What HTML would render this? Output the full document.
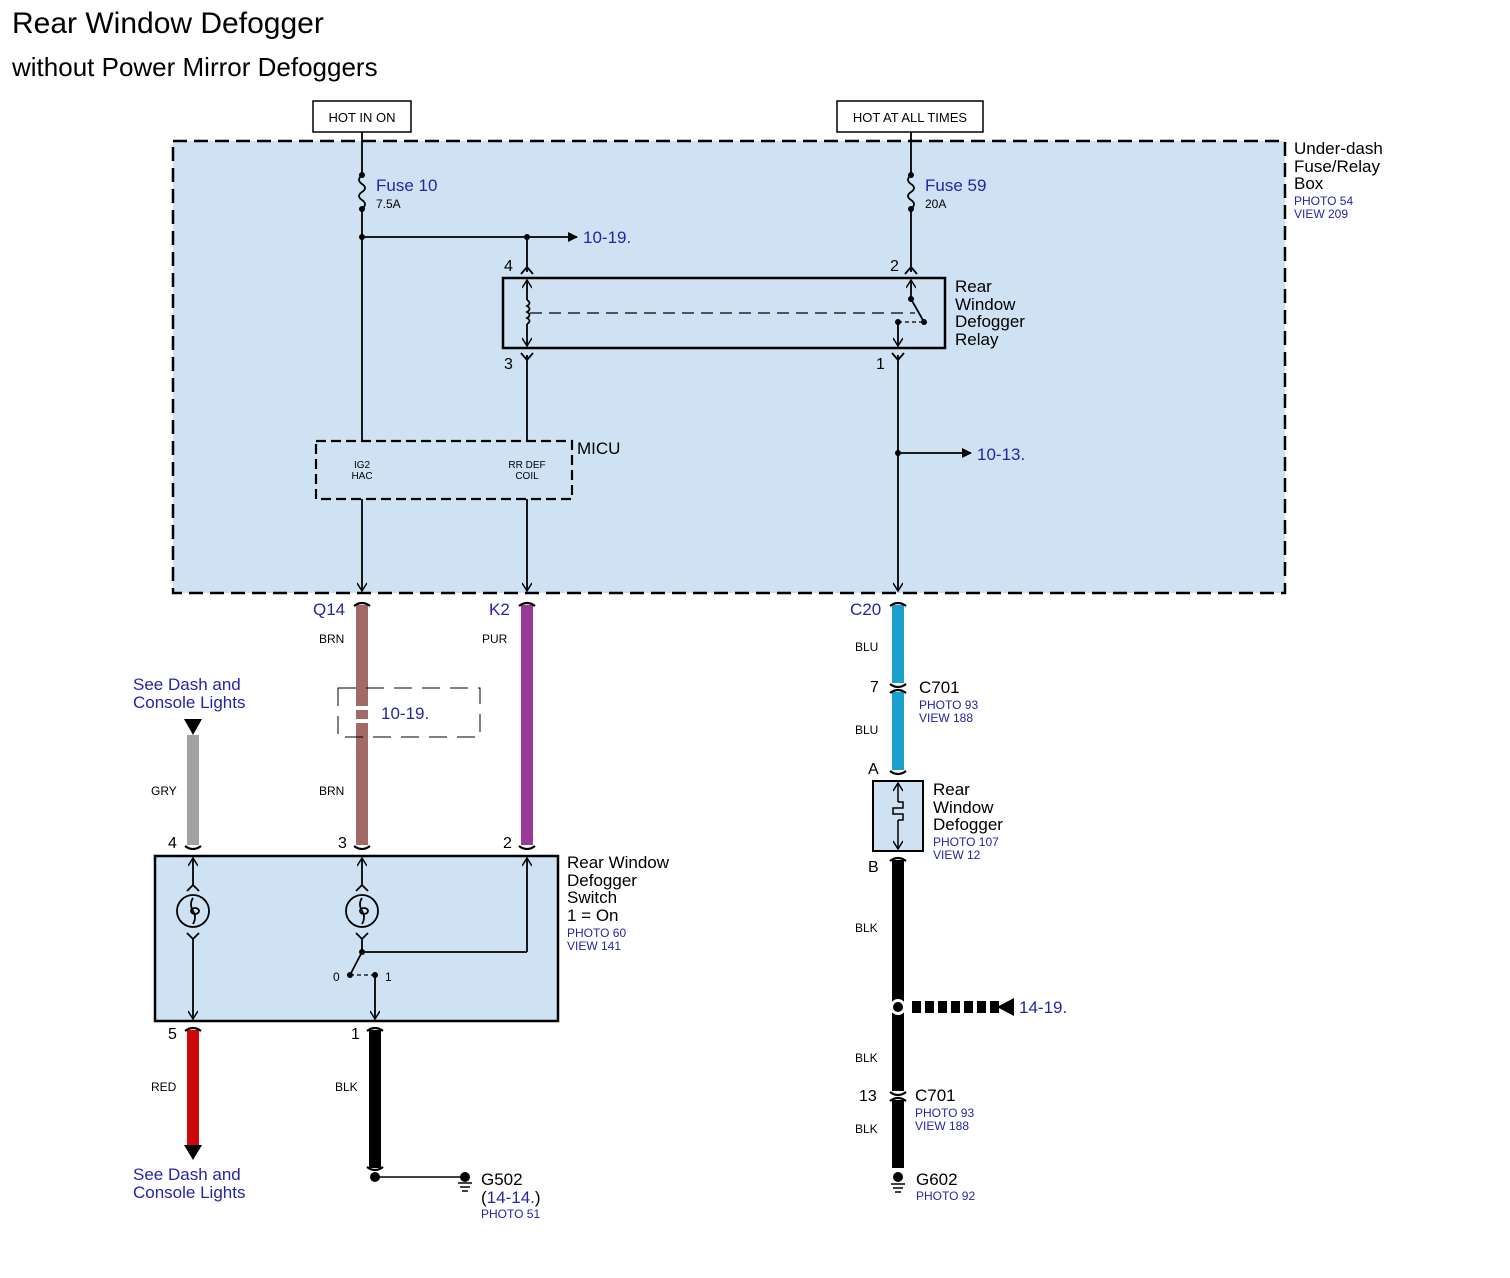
<!DOCTYPE html>
<html><head><meta charset="utf-8"><style>
html,body{margin:0;padding:0;background:#fff;}
svg{display:block;}
text{font-family:"Liberation Sans",Arial,sans-serif;}
.b{fill:#2424a8;}
.k{fill:#000;}
</style></head><body>
<svg width="1510" height="1278" viewBox="0 0 1510 1278" xmlns="http://www.w3.org/2000/svg">
<defs>
<marker id="ah" markerWidth="10" markerHeight="10" refX="9" refY="5" orient="auto" markerUnits="userSpaceOnUse"><path d="M0,0 L10,5 L0,10 z" fill="#000"/></marker>
<marker id="ch" markerWidth="12" markerHeight="10" refX="10" refY="5" orient="auto-start-reverse" markerUnits="userSpaceOnUse"><path d="M2,0 L10,5 L2,10" fill="none" stroke="#000" stroke-width="1.5"/></marker>
</defs>
<text x="12" y="33" font-size="30" class="k">Rear Window Defogger</text>
<text x="12" y="76" font-size="26" class="k">without Power Mirror Defoggers</text>

<rect x="173" y="141" width="1112" height="452" fill="#cfe2f3" stroke="#000" stroke-width="2.5" stroke-dasharray="14,7"/>
<rect x="313" y="101" width="98" height="31" fill="#fff" stroke="#000" stroke-width="1.5"/>
<text x="362" y="122" font-size="13" text-anchor="middle">HOT IN ON</text>
<rect x="837" y="101" width="146" height="31" fill="#fff" stroke="#000" stroke-width="1.5"/>
<text x="910" y="122" font-size="13" text-anchor="middle">HOT AT ALL TIMES</text>
<text x="1294" y="154" font-size="17">Under-dash</text>
<text x="1294" y="172" font-size="17">Fuse/Relay</text>
<text x="1294" y="189" font-size="17">Box</text>
<text x="1294" y="205" font-size="12" class="b">PHOTO 54</text>
<text x="1294" y="218" font-size="12" class="b">VIEW 209</text>

<g stroke="#000" stroke-width="1.8" fill="none">
<line x1="362" y1="132" x2="362" y2="175"/>
<path d="M362,175 q-6,5 0,9 q6,4 0,8 q-6,4 0,8 q6,4 0,9"/>
<line x1="362" y1="209" x2="362" y2="441"/>
<line x1="362" y1="237" x2="577" y2="237" marker-end="url(#ah)"/>
<line x1="527" y1="237" x2="527" y2="272"/>
<path d="M521,274 L527,267 L533,274"/>
<line x1="911" y1="132" x2="911" y2="175"/>
<path d="M911,175 q-6,5 0,9 q6,4 0,8 q-6,4 0,8 q6,4 0,9"/>
<line x1="911" y1="209" x2="911" y2="272"/>
<path d="M905,274 L911,267 L917,274"/>
<rect x="503" y="278" width="442" height="70" stroke-width="2.5"/>
<line x1="527" y1="280" x2="527" y2="300" marker-start="url(#ch)"/>
<path d="M527,300 q5,3 0,6 q5,3 0,6 q5,3 0,6 q5,3 0,6"/>
<line x1="527" y1="324" x2="527" y2="346" marker-end="url(#ch)"/>
<line x1="530" y1="313" x2="915" y2="313" stroke-dasharray="12,7" stroke-width="1.3"/>
<line x1="911" y1="280" x2="911" y2="299" marker-start="url(#ch)"/>
<line x1="911" y1="299" x2="924" y2="322"/>
<line x1="898" y1="322" x2="924" y2="322" stroke-dasharray="4,3" stroke-width="1.2"/>
<line x1="898" y1="322" x2="898" y2="346" marker-end="url(#ch)"/>
<path d="M521,353 L527,360 L533,353"/>
<line x1="527" y1="355" x2="527" y2="441"/>
<path d="M892,353 L898,360 L904,353"/>
<line x1="898" y1="355" x2="898" y2="591" marker-end="url(#ch)"/>
<line x1="898" y1="453" x2="971" y2="453" marker-end="url(#ah)"/>
<rect x="316" y="441" width="256" height="58" stroke-dasharray="10,5" stroke-width="2.2"/>
<line x1="362" y1="499" x2="362" y2="591" marker-end="url(#ch)"/>
<line x1="527" y1="499" x2="527" y2="591" marker-end="url(#ch)"/>
</g>
<g fill="#000">
<circle cx="362" cy="175" r="3"/><circle cx="362" cy="209" r="3"/>
<circle cx="911" cy="175" r="3"/><circle cx="911" cy="209" r="3"/>
<circle cx="362" cy="237" r="3"/><circle cx="527" cy="237" r="3"/>
<circle cx="911" cy="299" r="3"/><circle cx="924" cy="322" r="3"/><circle cx="898" cy="322" r="3"/>
<circle cx="898" cy="453" r="3"/>
</g>
<text x="376" y="191" font-size="17" class="b">Fuse 10</text>
<text x="376" y="208" font-size="12">7.5A</text>
<text x="925" y="191" font-size="17" class="b">Fuse 59</text>
<text x="925" y="208" font-size="12">20A</text>
<text x="583" y="243" font-size="17" class="b">10-19.</text>
<text x="977" y="460" font-size="17" class="b">10-13.</text>
<text x="504" y="271" font-size="16">4</text>
<text x="890" y="271" font-size="16">2</text>
<text x="504" y="369" font-size="16">3</text>
<text x="876" y="369" font-size="16">1</text>
<text x="955" y="292" font-size="17">Rear</text>
<text x="955" y="310" font-size="17">Window</text>
<text x="955" y="327" font-size="17">Defogger</text>
<text x="955" y="345" font-size="17">Relay</text>
<text x="577" y="454" font-size="17">MICU</text>
<text x="362" y="468" font-size="10" text-anchor="middle">IG2</text>
<text x="362" y="479" font-size="10" text-anchor="middle">HAC</text>
<text x="527" y="468" font-size="10" text-anchor="middle">RR DEF</text>
<text x="527" y="479" font-size="10" text-anchor="middle">COIL</text>

<rect x="356" y="605" width="12" height="240" fill="#a26a66"/>
<rect x="521" y="605" width="12" height="240" fill="#9a3a98"/>
<rect x="892" y="605" width="12" height="78" fill="#1aa0cc"/>
<rect x="892" y="692" width="12" height="78" fill="#1aa0cc"/>
<rect x="187" y="735" width="12" height="110" fill="#a2a2a2"/>
<rect x="187" y="1030" width="12" height="115" fill="#cc0a0a"/>
<rect x="369" y="1030" width="12" height="138" fill="#000"/>
<rect x="892" y="860" width="12" height="231" fill="#000"/>
<rect x="892" y="1100" width="12" height="68" fill="#000"/>
<g stroke="#000" stroke-width="2.2" fill="none">
<path d="M354,606 Q362,600 370,606"/><path d="M519,606 Q527,600 535,606"/><path d="M890,606 Q898,600 906,606"/>
<path d="M890,684 Q898,690 906,684"/><path d="M890,693 Q898,687 906,693"/>
<path d="M890,771 Q898,777 906,771"/><path d="M890,861 Q898,855 906,861"/>
<path d="M185,846 Q193,852 201,846"/><path d="M354,846 Q362,852 370,846"/><path d="M519,846 Q527,852 535,846"/>
<path d="M185,1031 Q193,1025 201,1031"/><path d="M367,1031 Q375,1025 383,1031"/>
<path d="M890,1092 Q898,1098 906,1092"/><path d="M890,1101 Q898,1095 906,1101"/>
<path d="M367,1167 Q375,1173 383,1167"/>
</g>
<text x="313" y="615" font-size="17" class="b">Q14</text>
<text x="489" y="615" font-size="17" class="b">K2</text>
<text x="850" y="615" font-size="17" class="b">C20</text>
<text x="319" y="643" font-size="12">BRN</text>
<text x="482" y="643" font-size="12">PUR</text>
<text x="319" y="795" font-size="12">BRN</text>
<text x="151" y="795" font-size="12">GRY</text>
<text x="855" y="651" font-size="12">BLU</text>
<text x="855" y="734" font-size="12">BLU</text>
<rect x="338" y="688" width="142" height="49" fill="none" stroke="#000" stroke-width="1" stroke-dasharray="18,10"/>
<rect x="354" y="706" width="16" height="4" fill="#fff"/><rect x="354" y="719" width="16" height="4" fill="#fff"/>
<text x="381" y="719" font-size="17" class="b">10-19.</text>
<text x="133" y="690" font-size="17" class="b">See Dash and</text>
<text x="133" y="708" font-size="17" class="b">Console Lights</text>
<path d="M184,719 L202,719 L193,735 z" fill="#000"/>

<rect x="155" y="856" width="403" height="165" fill="#cfe2f3" stroke="#000" stroke-width="2.5"/>
<g stroke="#000" stroke-width="1.8" fill="none">
<line x1="193" y1="858" x2="193" y2="885" marker-start="url(#ch)"/>
<path d="M187,891 L193,885 L199,891"/>
<circle cx="193" cy="911" r="16"/>
<circle cx="362" cy="911" r="16"/>
<path d="M193,898 q-4,6 0,13 q4,6 0,13"/><ellipse cx="195" cy="911" rx="4" ry="3"/>
<path d="M362,898 q-4,6 0,13 q4,6 0,13"/><ellipse cx="364" cy="911" rx="4" ry="3"/>
<path d="M187,933 L193,939 L199,933"/>
<line x1="193" y1="939" x2="193" y2="1019" marker-end="url(#ch)"/>
<line x1="362" y1="858" x2="362" y2="885" marker-start="url(#ch)"/>
<path d="M356,891 L362,885 L368,891"/>
<path d="M356,933 L362,939 L368,933"/>
<line x1="362" y1="939" x2="362" y2="952"/>
<line x1="362" y1="952" x2="527" y2="952"/>
<line x1="527" y1="952" x2="527" y2="858" marker-end="url(#ch)"/>
<line x1="362" y1="952" x2="350" y2="975"/>
<line x1="350" y1="975" x2="375" y2="975" stroke-dasharray="4,3" stroke-width="1.2"/>
<line x1="375" y1="975" x2="375" y2="1019" marker-end="url(#ch)"/>
</g>
<circle cx="362" cy="952" r="3"/><circle cx="350" cy="975" r="3"/><circle cx="375" cy="975" r="3"/>
<text x="333" y="981" font-size="12">0</text><text x="385" y="981" font-size="12">1</text>
<text x="168" y="848" font-size="16">4</text><text x="338" y="848" font-size="16">3</text><text x="503" y="848" font-size="16">2</text>
<text x="168" y="1039" font-size="16">5</text><text x="351" y="1039" font-size="16">1</text>
<text x="567" y="868" font-size="17">Rear Window</text>
<text x="567" y="886" font-size="17">Defogger</text>
<text x="567" y="903" font-size="17">Switch</text>
<text x="567" y="921" font-size="17">1 = On</text>
<text x="567" y="937" font-size="12" class="b">PHOTO 60</text>
<text x="567" y="950" font-size="12" class="b">VIEW 141</text>

<text x="151" y="1091" font-size="12">RED</text>
<text x="335" y="1091" font-size="12">BLK</text>
<path d="M184,1145 L202,1145 L193,1160 z" fill="#000"/>
<text x="133" y="1180" font-size="17" class="b">See Dash and</text>
<text x="133" y="1198" font-size="17" class="b">Console Lights</text>
<circle cx="375" cy="1177" r="5"/>
<line x1="375" y1="1177" x2="463" y2="1177" stroke="#000" stroke-width="1.5"/>
<circle cx="465" cy="1177" r="5"/>
<g stroke="#000" stroke-width="1.5"><line x1="458" y1="1183" x2="472" y2="1183"/><line x1="460" y1="1187" x2="470" y2="1187"/><line x1="462" y1="1191" x2="468" y2="1191"/></g>
<text x="481" y="1185" font-size="17">G502</text>
<text x="481" y="1203" font-size="17" class="k">(<tspan class="b">14-14.</tspan>)</text>
<text x="481" y="1218" font-size="12" class="b">PHOTO 51</text>

<text x="868" y="774" font-size="16">A</text>
<text x="868" y="872" font-size="16">B</text>
<text x="870" y="692" font-size="16">7</text>
<text x="919" y="693" font-size="17">C701</text>
<text x="919" y="709" font-size="12" class="b">PHOTO 93</text>
<text x="919" y="722" font-size="12" class="b">VIEW 188</text>
<rect x="873" y="781" width="50" height="70" fill="#cfe2f3" stroke="#000" stroke-width="2"/>
<g stroke="#000" stroke-width="1.5" fill="none">
<line x1="898" y1="783" x2="898" y2="802" marker-start="url(#ch)"/>
<path d="M898,802 L903,802 L903,808 L893,808 L893,814 L903,814 L903,820 L898,820"/>
<line x1="898" y1="820" x2="898" y2="849" marker-end="url(#ch)"/>
</g>
<text x="933" y="795" font-size="17">Rear</text>
<text x="933" y="813" font-size="17">Window</text>
<text x="933" y="830" font-size="17">Defogger</text>
<text x="933" y="846" font-size="12" class="b">PHOTO 107</text>
<text x="933" y="859" font-size="12" class="b">VIEW 12</text>
<text x="855" y="932" font-size="12">BLK</text>
<circle cx="898" cy="1007" r="8" fill="#fff"/><circle cx="898" cy="1007" r="5" fill="#000"/>
<line x1="912" y1="1007" x2="1000" y2="1007" stroke="#000" stroke-width="12" stroke-dasharray="9,4"/>
<path d="M997,1007 L1014,998 L1014,1016 z" fill="#000"/>
<text x="1019" y="1013" font-size="17" class="b">14-19.</text>
<text x="855" y="1062" font-size="12">BLK</text>
<text x="859" y="1101" font-size="16">13</text>
<text x="915" y="1101" font-size="17">C701</text>
<text x="915" y="1117" font-size="12" class="b">PHOTO 93</text>
<text x="915" y="1130" font-size="12" class="b">VIEW 188</text>
<text x="855" y="1133" font-size="12">BLK</text>
<circle cx="898" cy="1176" r="8" fill="#fff"/><circle cx="898" cy="1177" r="5"/>
<g stroke="#000" stroke-width="1.5"><line x1="891" y1="1184" x2="905" y2="1184"/><line x1="893" y1="1188" x2="903" y2="1188"/><line x1="895" y1="1192" x2="901" y2="1192"/></g>
<text x="916" y="1185" font-size="17">G602</text>
<text x="916" y="1200" font-size="12" class="b">PHOTO 92</text>
</svg>
</body></html>
